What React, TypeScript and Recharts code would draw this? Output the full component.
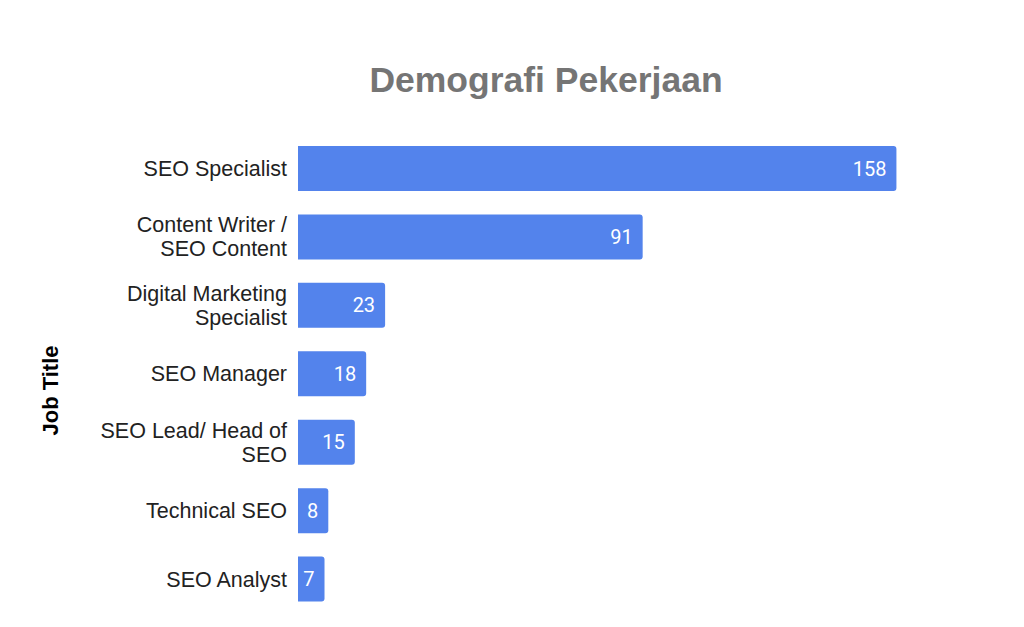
import React from 'react'
import { BarChart, Bar, XAxis, YAxis, LabelList } from 'recharts'

const jobTitles = [
  'SEO Specialist',
  'Content Writer /\nSEO Content',
  'Digital Marketing\nSpecialist',
  'SEO Manager',
  'SEO Lead/ Head of\nSEO',
  'Technical SEO',
  'SEO Analyst',
]
const counts = [158, 91, 23, 18, 15, 8, 7]

const data = jobTitles.map((job, i) => ({ job, count: counts[i] }))

const W = 1024
const H = 627
const PLOT_LEFT = 298
const AXIS_LEFT = 45
const BAR_COLOR = '#5383ec'

const JobTick = (props: any) => {
  const { y, payload } = props
  const lines: string[] = String(payload.value).split('\n')
  const lineGap = 24
  const start = y - ((lines.length - 1) * lineGap) / 2
  return (
    <text
      x={PLOT_LEFT - 11}
      y={start}
      textAnchor="end"
      fill="#222"
      fontSize={21.5}
      fontFamily="'Liberation Sans', Arial, sans-serif"
    >
      {lines.map((line, i) => (
        <tspan key={i} x={PLOT_LEFT - 11} y={start + i * lineGap} dy="0.36em">
          {line}
        </tspan>
      ))}
    </text>
  )
}

const AxisTitle = (props: any) => {
  const vb = props.viewBox || { x: AXIS_LEFT, y: 134, height: 479 }
  const cx = vb.x + 5
  const cy = vb.y + vb.height / 2 + 17
  return (
    <text
      x={cx}
      y={cy}
      transform={`rotate(-90 ${cx} ${cy})`}
      textAnchor="middle"
      dy="0.36em"
      fill="#000"
      fontSize={22}
      fontWeight="bold"
      fontFamily="'Liberation Sans', Arial, sans-serif"
    >
      Job Title
    </text>
  )
}

const App: React.FC = () => {
  return (
    <div style={{ position: 'absolute', left: 0, top: 0, width: W, height: H, background: '#fff' }}>
      <div
        style={{
          position: 'absolute',
          left: 346,
          top: 62,
          width: 400,
          textAlign: 'center',
          fontFamily: "'Liberation Sans', Arial, sans-serif",
          fontWeight: 'bold',
          fontSize: 35.5,
          lineHeight: '36px',
          color: '#757575',
        }}
      >
        Demografi Pekerjaan
      </div>
      <BarChart
        width={W}
        height={H}
        data={data}
        layout="vertical"
        margin={{ top: 134, right: 120, bottom: 14, left: AXIS_LEFT }}
      >
        <XAxis type="number" hide domain={[0, 160]} />
        <YAxis
          type="category"
          dataKey="job"
          width={PLOT_LEFT - AXIS_LEFT}
          axisLine={false}
          tickLine={false}
          tick={<JobTick />}
          interval={0}
          label={{ content: <AxisTitle /> }}
        />
        <Bar dataKey="count" fill={BAR_COLOR} barSize={45} radius={[0, 3, 3, 0]} isAnimationActive={false}>
          <LabelList
            dataKey="count"
            position="insideRight"
            offset={10}
            fill="#fff"
            style={{ fontFamily: 'Roboto, sans-serif', fontSize: 20 }}
          />
        </Bar>
      </BarChart>
    </div>
  )
}

export default App
